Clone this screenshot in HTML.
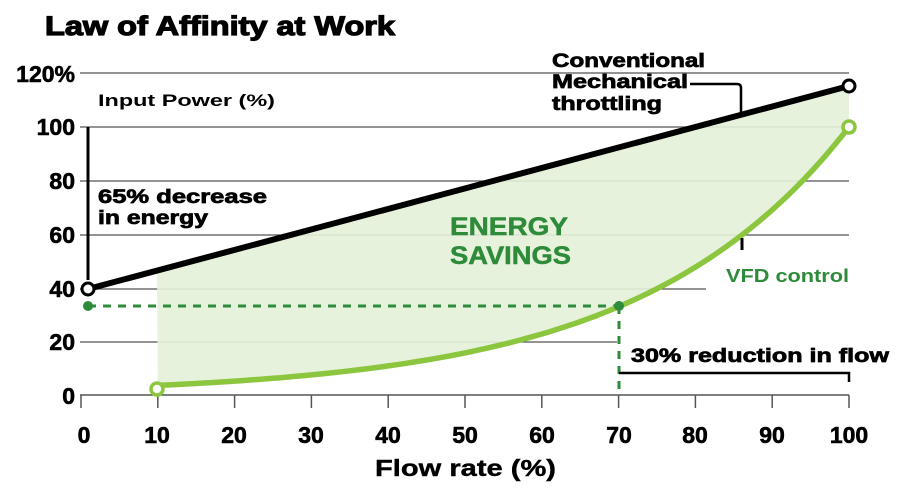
<!DOCTYPE html>
<html><head><meta charset="utf-8"><style>
body{margin:0;background:#fff}
svg{display:block}
text{font-family:"Liberation Sans",Arial,sans-serif;font-weight:bold}
</style></head><body>
<svg width="900" height="495" viewBox="0 0 900 495" xmlns="http://www.w3.org/2000/svg">
<text x="45" y="35" font-size="27" fill="#000" stroke="#000" stroke-width="1.2" textLength="350" lengthAdjust="spacingAndGlyphs">Law of Affinity at Work</text>
<g stroke="#555" stroke-width="1.2">
<line x1="80" y1="73" x2="849" y2="73"/>
<line x1="80" y1="127" x2="849" y2="127"/>
<line x1="80" y1="181" x2="849" y2="181"/>
<line x1="80" y1="235" x2="849" y2="235"/>
<line x1="80" y1="289" x2="706" y2="289"/>
<line x1="80" y1="342" x2="617" y2="342"/>
</g>
<path id="fill" fill="#e4f1d9" opacity="0.9" d=""/>
<g id="ticks" stroke="#555" stroke-width="1.5"></g>
<line x1="80" y1="395" x2="849" y2="395" stroke="#555" stroke-width="1.5"/>
<line x1="88" y1="127" x2="88" y2="280" stroke="#000" stroke-width="3"/>
<line x1="88" y1="306" x2="619" y2="306" stroke="#2e8b3a" stroke-width="3" stroke-dasharray="8,7"/>
<line x1="619" y1="306" x2="619" y2="395" stroke="#2e8b3a" stroke-width="3" stroke-dasharray="8,7"/>
<circle cx="88" cy="306" r="5" fill="#2e8b3a"/>
<line x1="88" y1="289" x2="849" y2="86" stroke="#000" stroke-width="6"/>
<path id="curve" fill="none" stroke="#8cc63f" stroke-width="5.5" d=""/>
<circle cx="619" cy="306" r="5" fill="#2e8b3a"/>
<circle cx="88" cy="289" r="6" fill="#fff" stroke="#000" stroke-width="3"/>
<circle cx="849" cy="86" r="6" fill="#fff" stroke="#000" stroke-width="3"/>
<circle cx="157" cy="389" r="6" fill="#fff" stroke="#8cc63f" stroke-width="3.5"/>
<circle cx="849" cy="127" r="6" fill="#fff" stroke="#8cc63f" stroke-width="3.5"/>
<path d="M690 84 H737 Q741 84 741 88 V112" fill="none" stroke="#000" stroke-width="2.5"/>
<line x1="742" y1="238" x2="742" y2="250" stroke="#000" stroke-width="3"/>
<path d="M619 373 H849 V382" fill="none" stroke="#000" stroke-width="2.5"/>
<g font-size="23" fill="#000" stroke="#000" stroke-width="0.6" text-anchor="end">
<text x="75" y="82">120%</text><text x="75" y="135">100</text><text x="75" y="189">80</text>
<text x="75" y="243">60</text><text x="75" y="297">40</text><text x="75" y="350">20</text><text x="75" y="404">0</text>
</g>
<g font-size="23" fill="#000" stroke="#000" stroke-width="0.6" text-anchor="middle">
<text x="84" y="443">0</text><text x="157" y="443">10</text><text x="234" y="443">20</text><text x="311" y="443">30</text>
<text x="388" y="443">40</text><text x="465" y="443">50</text><text x="542" y="443">60</text><text x="619" y="443">70</text>
<text x="695" y="443">80</text><text x="772" y="443">90</text><text x="849" y="443">100</text>
</g>
<text x="375" y="476" font-size="23" stroke="#000" stroke-width="0.4" textLength="181" lengthAdjust="spacingAndGlyphs">Flow rate (%)</text>
<text x="98" y="106" font-size="17" textLength="177" lengthAdjust="spacingAndGlyphs">Input Power (%)</text>
<g font-size="19" fill="#000" stroke="#000" stroke-width="0.7">
<text x="98" y="203" textLength="169" lengthAdjust="spacingAndGlyphs">65% decrease</text>
<text x="98" y="224" textLength="110" lengthAdjust="spacingAndGlyphs">in energy</text>
<text x="552" y="67" textLength="153" lengthAdjust="spacingAndGlyphs">Conventional</text>
<text x="552" y="88" textLength="136" lengthAdjust="spacingAndGlyphs">Mechanical</text>
<text x="552" y="110" textLength="110" lengthAdjust="spacingAndGlyphs">throttling</text>
<text x="631" y="362" textLength="258" lengthAdjust="spacingAndGlyphs">30% reduction in flow</text>
</g>
<g font-size="25" fill="#2e8b3a" stroke="#2e8b3a" stroke-width="0.5">
<text x="450" y="235" textLength="118" lengthAdjust="spacingAndGlyphs">ENERGY</text>
<text x="450" y="264" textLength="121" lengthAdjust="spacingAndGlyphs">SAVINGS</text>
</g>
<text x="726" y="282" font-size="18" fill="#2e8b3a" textLength="123" lengthAdjust="spacingAndGlyphs">VFD control</text>
</svg>
<script>
(function(){
var X=function(f){return 81+7.68*f}, Y=function(v){return 395-2.68*v};
var pts=[];for(var f=10;f<=100;f+=1){var v=100*Math.exp(0.037*(f-100));pts.push([X(f),Y(v)]);}
var d="M"+pts.map(function(p){return p[0].toFixed(1)+" "+p[1].toFixed(1)}).join(" L");
document.getElementById("curve").setAttribute("d",d);
var by=function(x){return 289+(86-289)*(x-88)/(849-88)};
var fd="M157 "+by(157).toFixed(1)+" L849 86 L"+pts.slice().reverse().map(function(p){return p[0].toFixed(1)+" "+p[1].toFixed(1)}).join(" L")+" Z";
document.getElementById("fill").setAttribute("d",fd);
var g=document.getElementById("ticks"),s="";
for(var i=0;i<=10;i++){var x=X(i*10);s+='<line x1="'+x+'" y1="395" x2="'+x+'" y2="408"/>';}
g.innerHTML=s;
})();
</script>
</body></html>
